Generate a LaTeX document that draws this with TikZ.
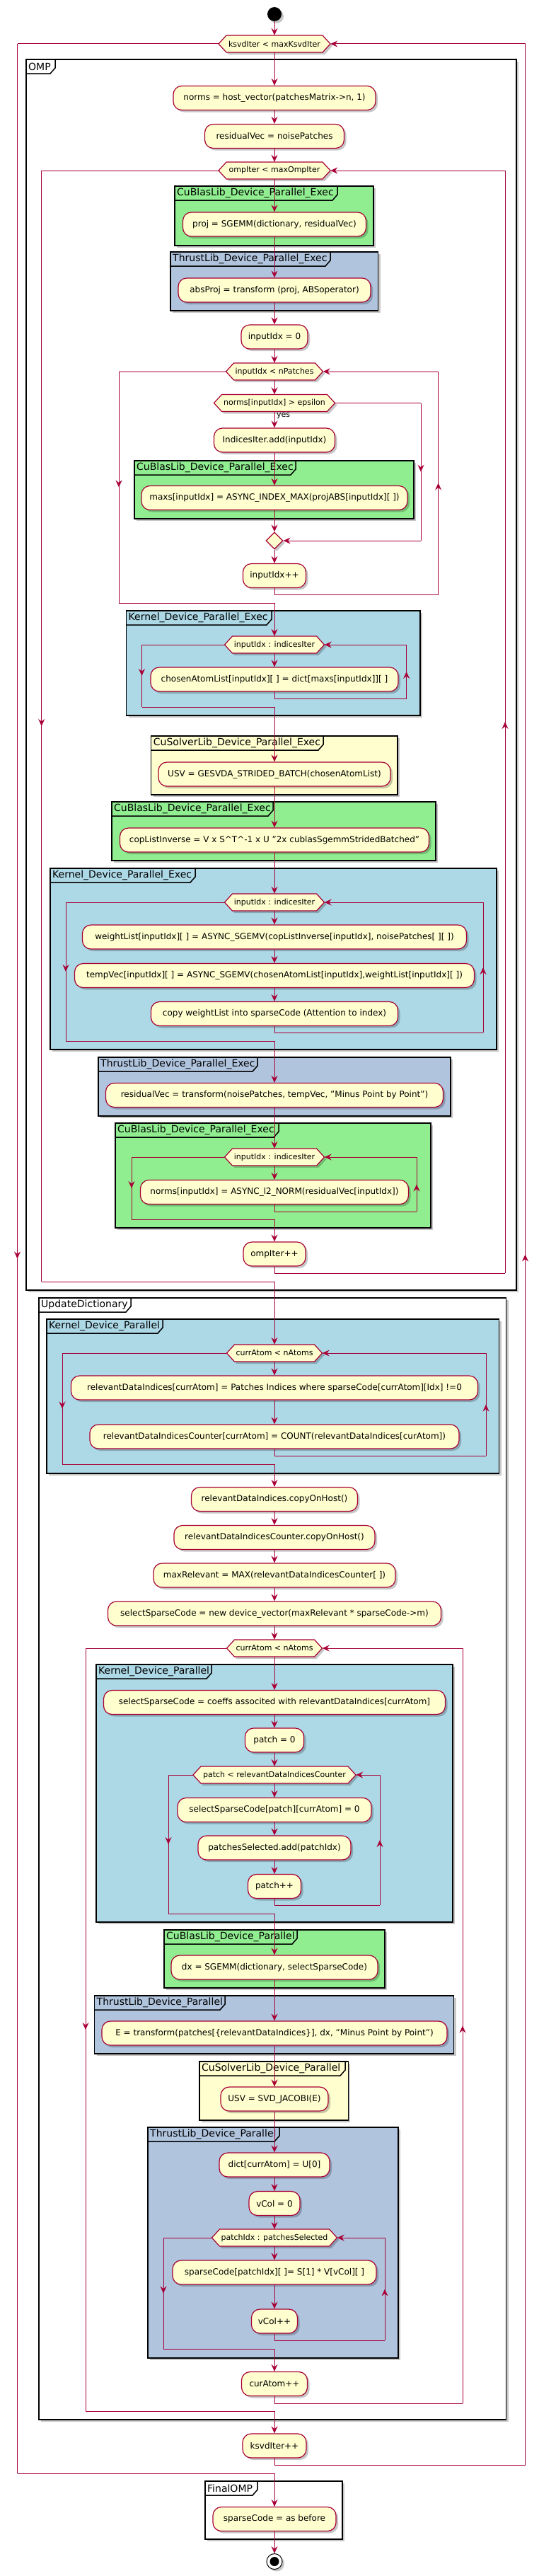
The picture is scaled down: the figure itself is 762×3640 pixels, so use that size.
\documentclass[tikz,border=0pt]{standalone}
\usepackage{fontspec}
\setmainfont{DejaVu Sans}
\usetikzlibrary{arrows.meta,shapes.geometric,shadows,decorations.markings}
\definecolor{arrowc}{HTML}{A80036}
\definecolor{actfill}{HTML}{FEFECE}
\definecolor{cgreen}{HTML}{90EE90}
\definecolor{csteel}{HTML}{B0C4DE}
\definecolor{cblue}{HTML}{ADD8E6}
\definecolor{ccream}{HTML}{FEFECE}
\tikzset{
 shad/.style={drop shadow={shadow xshift=3pt,shadow yshift=-3pt,fill=black,opacity=0.22}},
 act/.style={draw=arrowc, fill=actfill, line width=1.2pt, rounded corners=12pt, minimum height=34pt, inner xsep=8pt, font=\fontsize{12}{14}\selectfont, shad},
 hexline/.style={draw=arrowc, fill=actfill, line width=1.2pt, shad},
 hextxt/.style={inner sep=0pt, minimum height=24pt, font=\fontsize{11}{13}\selectfont},
 frm/.style={draw=black, line width=1.5pt, shad},
 tabline/.style={draw=black, line width=1.5pt},
 frmlbl/.style={anchor=west, inner sep=0pt, font=\fontsize{14}{16}\selectfont},
 line/.style={draw=arrowc, line width=1pt},
 flow/.style={line, -{Stealth[length=10pt,width=9pt,inset=3.5pt]}},
 midarr/.style={postaction={decorate}, decoration={markings, mark=at position 0.5 with {\arrow{Stealth[length=10pt,width=9pt,inset=3.5pt,color=arrowc]}}}},
}
\newcommand\grp[8]{%
  \filldraw[frm, fill=#7] (#2,#3) rectangle (#4,#5);
  \draw[tabline] (#2,#3+20) -- (#6-7,#3+20) -- (#6,#3+12) -- (#6,#3);
  \node[frmlbl] (#1) at (#2+3,#3+10) {#8};
}
\newcommand\hexa[4]{%
  \filldraw[hexline] (388-#3,#2) -- (388-#3+11,#2-12) -- (388+#3-11,#2-12) -- (388+#3,#2) -- (388+#3-11,#2+12) -- (388-#3+11,#2+12) -- cycle;
  \node[hextxt, minimum width=2*#3pt] (#1) at (388,#2) {#4};
}
\newcommand\wloop[8]{%
  \coordinate (#1rb) at (#6,#7);
  \coordinate (#1rt) at (#6,#2);
  \coordinate (#1lt) at (#5,#2);
  \coordinate (#1lb) at (#5,#8);
  \coordinate (#1xb) at (388,#8);
  \draw[line] (#3.south) |- (#1rb);
  \draw[line,midarr] (#1rb) -- (#1rt);
  \draw[flow] (#1rt) -- (#1.east);
  \draw[line] (#1.west) -- (#1lt);
  \draw[line,midarr] (#1lt) -- (#1lb);
  \draw[line] (#1lb) -- (#1xb);
  \draw[flow] (#1xb) -- (#4.north);
}
\begin{document}
\begin{tikzpicture}[x=1pt,y=-1pt]
\useasboundingbox (0,0) rectangle (762,3640);
% frames
\grp{f1}{37}{84}{730}{1823}{78}{white}{OMP}
\grp{f2}{247}{263}{528}{347}{477}{cgreen}{CuBlasLib\_Device\_Parallel\_Exec}
\grp{f3}{241}{356}{534.5}{439}{467}{csteel}{ThrustLib\_Device\_Parallel\_Exec}
\grp{f4}{190}{651}{585}{733}{418}{cgreen}{CuBlasLib\_Device\_Parallel\_Exec}
\grp{f5}{178.5}{863}{594}{1011}{384}{cblue}{Kernel\_Device\_Parallel\_Exec}
\grp{f6}{213.7}{1040}{562}{1123}{457}{ccream}{CuSolverLib\_Device\_Parallel\_Exec}
\grp{f7}{158}{1133}{616}{1216}{386}{cgreen}{CuBlasLib\_Device\_Parallel\_Exec}
\grp{f8}{71}{1227}{702}{1483}{276}{cblue}{Kernel\_Device\_Parallel\_Exec}
\grp{f9}{139}{1494}{637}{1577}{364}{csteel}{ThrustLib\_Device\_Parallel\_Exec}
\grp{f10}{163}{1587}{609}{1735}{394}{cgreen}{CuBlasLib\_Device\_Parallel\_Exec}
\grp{f11}{55}{1834}{715.5}{3419}{185}{white}{UpdateDictionary}
\grp{f12}{66}{1864}{705.6}{2082}{230}{cblue}{Kernel\_Device\_Parallel}
\grp{f13}{136}{2352}{640}{2716}{299}{cblue}{Kernel\_Device\_Parallel}
\grp{f14}{232}{2727}{544}{2809}{420}{cgreen}{CuBlasLib\_Device\_Parallel}
\grp{f15}{133.5}{2820}{641.6}{2902}{318}{csteel}{ThrustLib\_Device\_Parallel}
\grp{f16}{282}{2913}{492.4}{2996}{488}{ccream}{CuSolverLib\_Device\_Parallel}
\grp{f17}{209}{3006}{563}{3332}{395}{csteel}{ThrustLib\_Device\_Parallel}
\grp{f18}{290}{3506}{484}{3588}{364}{white}{FinalOMP}
% start / end
\node[circle, fill=black, minimum size=20pt, inner sep=0pt, shad] (st) at (388,20) {};
\node[circle, draw=black, fill=white, line width=1pt, minimum size=22pt, inner sep=0pt, shad] (en) at (388,3619.5) {};
\fill[black] (en.center) circle (6.5pt);
% decisions
\hexa{h1}{62}{79}{ksvdIter < maxKsvdIter}
\hexa{h2}{241}{79}{ompIter < maxOmpIter}
\hexa{h3}{525}{68.5}{inputIdx < nPatches}
\hexa{h4}{569.5}{85.5}{norms[inputIdx] > epsilon}
\hexa{h5}{911}{70.5}{inputIdx : indicesIter}
\hexa{h6}{1275}{70.5}{inputIdx : indicesIter}
\hexa{h7}{1635}{70.5}{inputIdx : indicesIter}
\hexa{h8}{1912}{67.5}{currAtom < nAtoms}
\hexa{h9}{2329}{67.5}{currAtom < nAtoms}
\hexa{h10}{2508}{115}{patch < relevantDataIndicesCounter}
\hexa{h11}{3162}{88.5}{patchIdx : patchesSelected}
\node[diamond, draw=arrowc, fill=actfill, line width=1.2pt, minimum width=24pt, minimum height=24pt, inner sep=0pt, shad] (dm) at (388,764) {};
% activities
\node[act,minimum width=286pt] (a1) at (388,138.5) {norms = host\_vector(patchesMatrix->n, 1)};
\node[act,minimum width=197pt] (a2) at (388,192.5) {residualVec = noisePatches};
\node[act,minimum width=259pt] (a3) at (388,317) {proj = SGEMM(dictionary, residualVec)};
\node[act,minimum width=272pt] (a4) at (388,410) {absProj = transform (proj, ABSoperator)};
\node[act,minimum width=94pt] (a5) at (388,476) {inputIdx = 0};
\node[act,minimum width=171pt] (a6) at (388,622) {IndicesIter.add(inputIdx)};
\node[act,minimum width=376pt] (a7) at (388,703.5) {maxs[inputIdx] = ASYNC\_INDEX\_MAX(projABS[inputIdx][ ])};
\node[act,minimum width=89pt] (a8) at (388,813.5) {inputIdx++};
\node[act,minimum width=350pt] (a9) at (388,960) {chosenAtomList[inputIdx][ ] = dict[maxs[inputIdx]][ ]};
\node[act,minimum width=328pt] (a10) at (388,1094) {USV = GESVDA\_STRIDED\_BATCH(chosenAtomList)};
\node[act,minimum width=437pt] (a11) at (388,1187) {copListInverse = V x S\textasciicircum T\textasciicircum -1 x U "2x cublasSgemmStridedBatched"};
\node[act,minimum width=543pt] (a12) at (388,1324) {weightList[inputIdx][ ] = ASYNC\_SGEMV(copListInverse[inputIdx], noisePatches[ ][ ])};
\node[act,minimum width=565pt] (a13) at (388,1378.5) {tempVec[inputIdx][ ] = ASYNC\_SGEMV(chosenAtomList[inputIdx],weightList[inputIdx][ ])};
\node[act,minimum width=349pt] (a14) at (388,1432.5) {copy weightList into sparseCode (Attention to index)};
\node[act,minimum width=477pt] (a15) at (388,1547.5) {residualVec = transform(noisePatches, tempVec, "Minus Point by Point")};
\node[act,minimum width=379pt] (a16) at (388,1684.5) {norms[inputIdx] = ASYNC\_l2\_NORM(residualVec[inputIdx])};
\node[act,minimum width=88pt] (a17) at (388,1772) {ompIter++};
\node[act,minimum width=575pt] (a18) at (388,1961) {relevantDataIndices[currAtom] = Patches Indices where sparseCode[currAtom][Idx] !=0};
\node[act,minimum width=522pt] (a19) at (388,2030) {relevantDataIndicesCounter[currAtom] = COUNT(relevantDataIndices[curAtom])};
\node[act,minimum width=235pt] (a20) at (388,2118.5) {relevantDataIndices.copyOnHost()};
\node[act,minimum width=284pt] (a21) at (388,2172.5) {relevantDataIndicesCounter.copyOnHost()};
\node[act,minimum width=342pt] (a22) at (388,2226) {maxRelevant = MAX(relevantDataIndicesCounter[ ])};
\node[act,minimum width=471pt] (a23) at (388,2280) {selectSparseCode = new device\_vector(maxRelevant * sparseCode->m)};
\node[act,minimum width=483pt] (a24) at (388,2405.5) {selectSparseCode = coeffs associted with relevantDataIndices[currAtom]};
\node[act,minimum width=83pt] (a25) at (388,2459) {patch = 0};
\node[act,minimum width=274pt] (a26) at (388,2557.5) {selectSparseCode[patch][currAtom] = 0};
\node[act,minimum width=216pt] (a27) at (388,2611) {patchesSelected.add(patchIdx)};
\node[act,minimum width=75pt] (a28) at (388,2665.5) {patch++};
\node[act,minimum width=292pt] (a29) at (388,2780) {dx = SGEMM(dictionary, selectSparseCode)};
\node[act,minimum width=488pt] (a30) at (388,2873) {E = transform(patches[\{relevantDataIndices\}], dx, "Minus Point by Point")};
\node[act,minimum width=152pt] (a31) at (388,2966) {USV = SVD\_JACOBI(E)};
\node[act,minimum width=156pt] (a32) at (388,3059) {dict[currAtom] = U[0]};
\node[act,minimum width=72pt] (a33) at (388,3113.5) {vCol = 0};
\node[act,minimum width=288pt] (a34) at (388,3211) {sparseCode[patchIdx][ ]= S[1] * V[vCol][ ]};
\node[act,minimum width=65pt] (a35) at (388,3280) {vCol++};
\node[act,minimum width=93pt] (a36) at (388,3368.5) {curAtom++};
\node[act,minimum width=90pt] (a37) at (388,3456) {ksvdIter++};
\node[act,minimum width=174pt] (a38) at (388,3559.5) {sparseCode = as before};
% straight flows
\foreach \p/\q in {st/h1, h1/a1, a1/a2, a2/h2, h2/a3, a3/a4, a4/a5, a5/h3, h3/h4, h4/a6, a6/a7, a7/dm, dm/a8, h5/a9, a10/a11, a11/h6, h6/a12, a12/a13, a13/a14, a15/h7, h7/a16, h8/a18, a18/a19, a20/a21, a21/a22, a22/a23, a23/h9, h9/a24, a24/a25, a25/h10, h10/a26, a26/a27, a27/a28, a29/a30, a30/a31, a31/a32, a32/a33, a33/h11, h11/a34, a34/a35, a38/en}
  \draw[flow] (\p.south) -- (\q.north);
\node[anchor=west, inner sep=0pt, font=\fontsize{11}{13}\selectfont] (yes) at (391,588) {yes};
% else branch of the if
\coordinate (e1) at (595,569.5);
\coordinate (e2) at (595,764);
\draw[line] (h4.east) -- (e1);
\draw[line,midarr] (e1) -- (e2);
\draw[flow] (e2) -- (dm.east);
% loops
\wloop{h1}{62}{a37}{a38}{24.5}{742.5}{3483}{3495}
\wloop{h2}{241}{a17}{h8}{58.7}{714}{1799}{1811}
\wloop{h3}{525}{a8}{h5}{168}{619.6}{840}{852}
\wloop{h5}{911}{a9}{a10}{200.5}{574.6}{987}{999}
\wloop{h6}{1275}{a14}{a15}{93}{683}{1459}{1471}
\wloop{h7}{1635}{a16}{a17}{186}{589}{1712}{1723}
\wloop{h8}{1912}{a19}{a20}{88}{687}{2057}{2069}
\wloop{h9}{2329}{a36}{a37}{121}{654}{3396}{3407}
\wloop{h10}{2508}{a28}{a29}{238}{537}{2692}{2704}
\wloop{h11}{3162}{a35}{a36}{231}{544}{3307}{3319}
\end{tikzpicture}
\end{document}
